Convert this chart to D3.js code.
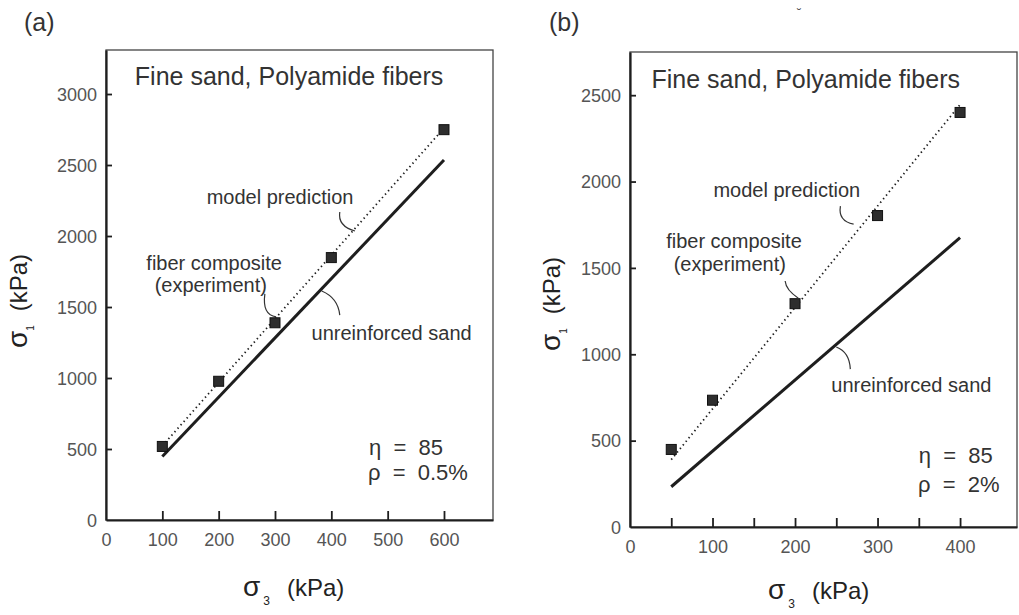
<!DOCTYPE html>
<html>
<head>
<meta charset="utf-8">
<script src="https://cdn.jsdelivr.net/npm/d3@7"></script>
<style>
  html, body { margin: 0; padding: 0; background: #fff; }
  svg { display: block; font-family: "Liberation Sans", Arial, Helvetica, sans-serif; }
</style>
</head>
<body>
<svg id="chart" width="1019" height="615"></svg>
<script>
// Panel (a): rho = 0.5 %
const s3TicksA = [0, 100, 200, 300, 400, 500, 600];
const s1TicksA = [0, 500, 1000, 1500, 2000, 2500, 3000];
const expS3A = [100, 200, 300, 400, 600];
const expS1A = [518, 977, 1389, 1848, 2749];
const modelS3A = [100, 600];
const modelS1A = [522, 2760];
const sandS3A = [100, 600];
const sandS1A = [447, 2535];

// Panel (b): rho = 2 %
const s3TicksB = [0, 50, 100, 150, 200, 250, 300, 350, 400];
const s3LabelsB = [0, 100, 200, 300, 400];
const s1TicksB = [0, 500, 1000, 1500, 2000, 2500];
const expS3B = [50, 100, 200, 300, 400];
const expS1B = [449, 734, 1293, 1803, 2400];
const modelS3B = [50, 400];
const modelS1B = [390, 2445];
const sandS3B = [50, 400];
const sandS1B = [233, 1675];

const svg = d3.select("#chart");
const ink = "#1e1e1e";
const textInk = "#333";
const tickInk = "#555";

function drawPanel(p) {
  const x = d3.scaleLinear().domain(p.xDomain).range(p.xRange);
  const y = d3.scaleLinear().domain(p.yDomain).range(p.yRange);
  const g = svg.append("g");

  // frame (top and right edges)
  g.append("rect")
    .attr("x", p.xRange[0]).attr("y", p.yRange[1])
    .attr("width", p.xRange[1] - p.xRange[0])
    .attr("height", p.yRange[0] - p.yRange[1])
    .attr("fill", "none").attr("stroke", "#444").attr("stroke-width", 1.3);

  // axes, ticks pointing inward
  const ax = g.append("g")
    .attr("transform", `translate(0,${p.yRange[0]})`)
    .call(d3.axisBottom(x).tickValues(p.xTicks).tickSizeInner(-9).tickSizeOuter(0).tickPadding(13)
      .tickFormat(d => p.xLabels.includes(d) ? String(d) : ""));
  const ay = g.append("g")
    .attr("transform", `translate(${p.xRange[0]},0)`)
    .call(d3.axisLeft(y).tickValues(p.yTicks).tickSizeInner(-6).tickSizeOuter(0).tickPadding(9)
      .tickFormat(d => String(d)));

  [ax, ay].forEach(a => {
    a.select(".domain").attr("stroke", ink).attr("stroke-width", 2.2);
    a.selectAll(".tick line").attr("stroke", ink).attr("stroke-width", 1.8);
    a.selectAll(".tick text").attr("fill", tickInk).attr("font-size", 18).attr("font-family", "Liberation Sans, Arial, sans-serif");
  });
  ax.selectAll(".tick").filter(d => d === 0).select("line").remove();
  ay.selectAll(".tick").filter(d => d === 0).select("line").remove();
  ay.selectAll(".tick text").attr("dy", "0.35em");

  // unreinforced sand: solid line
  const line = d3.line().x(d => x(d[0])).y(d => y(d[1]));
  g.append("path")
    .datum(p.sandS3.map((v, i) => [v, p.sandS1[i]]))
    .attr("d", line).attr("fill", "none").attr("stroke", ink).attr("stroke-width", 3);

  // model prediction: dotted line
  g.append("path")
    .datum(p.modelS3.map((v, i) => [v, p.modelS1[i]]))
    .attr("d", line).attr("fill", "none").attr("stroke", ink)
    .attr("stroke-width", 1.8).attr("stroke-dasharray", "1.4,3.2");

  // experiment: square markers
  const sz = 10;
  g.selectAll("rect.pt")
    .data(p.expS3.map((v, i) => [v, p.expS1[i]]))
    .join("rect").attr("class", "pt")
    .attr("x", d => x(d[0]) - sz / 2).attr("y", d => y(d[1]) - sz / 2)
    .attr("width", sz).attr("height", sz)
    .attr("fill", "#2e2e2e").attr("stroke", "#111").attr("stroke-width", 1);

  // text annotations, positioned in data units
  p.notes.forEach(n => {
    g.append("text")
      .attr("x", x(n.at[0])).attr("y", y(n.at[1]))
      .attr("text-anchor", n.anchor || "middle")
      .attr("font-size", n.size).attr("fill", textInk)
      .style("white-space", "pre")
      .text(n.text);
  });

  // leader curves from labels to the lines
  p.leaders.forEach(l => {
    const path = d3.path();
    path.moveTo(x(l[0][0]), y(l[0][1]));
    path.quadraticCurveTo(x(l[1][0]), y(l[1][1]), x(l[2][0]), y(l[2][1]));
    g.append("path").attr("d", path.toString())
      .attr("fill", "none").attr("stroke", "#333").attr("stroke-width", 1.2);
  });

  // panel letter
  svg.append("text").attr("x", p.letterPos[0]).attr("y", p.letterPos[1])
    .attr("font-size", 25).attr("fill", textInk).text(p.letter);

  // y-axis title: sigma_1 (kPa)
  const yt = svg.append("text")
    .attr("transform", `translate(${p.yTitlePos[0]},${p.yTitlePos[1]}) rotate(-90)`)
    .attr("text-anchor", "middle").attr("fill", "#222");
  yt.append("tspan").attr("font-size", 28).text("σ");
  yt.append("tspan").attr("font-size", 10).attr("dy", 7).text("1");
  yt.append("tspan").attr("font-size", 24).attr("dy", -7).attr("dx", 14).text("(kPa)");

  // x-axis title: sigma_3 (kPa)
  const xt = svg.append("text")
    .attr("x", p.xTitlePos[0]).attr("y", p.xTitlePos[1])
    .attr("fill", "#222");
  xt.append("tspan").attr("font-size", 28).text("σ");
  xt.append("tspan").attr("font-size", 12).attr("dy", 9).attr("dx", 3).text("3");
  xt.append("tspan").attr("font-size", 24).attr("dy", -9).attr("dx", 17).text("(kPa)");
}

drawPanel({
  letter: "(a)", letterPos: [24, 31],
  xDomain: [0, 687], xRange: [106, 493],
  yDomain: [0, 3310], yRange: [520, 50],
  xTicks: s3TicksA, xLabels: s3TicksA, yTicks: s1TicksA,
  expS3: expS3A, expS1: expS1A,
  modelS3: modelS3A, modelS1: modelS1A,
  sandS3: sandS3A, sandS1: sandS1A,
  yTitlePos: [27, 301], xTitlePos: [243, 596],
  notes: [
    { text: "Fine sand, Polyamide fibers", at: [325, 3063], size: 25 },
    { text: "model prediction", at: [309, 2225], size: 20 },
    { text: "fiber composite", at: [192, 1761], size: 20 },
    { text: "(experiment)", at: [186, 1606], size: 20 },
    { text: "unreinforced sand", at: [507, 1268], size: 20 },
    { text: "η  =  85", at: [467, 458], size: 22, anchor: "start" },
    { text: "ρ  =  0.5%", at: [465, 282], size: 22, anchor: "start" }
  ],
  leaders: [
    [[415, 2169], [411, 2070], [442, 2035]],
    [[282, 1592], [277, 1444], [302, 1430]],
    [[415, 1443], [412, 1564], [383, 1613]]
  ]
});

drawPanel({
  letter: "(b)", letterPos: [549, 31],
  xDomain: [0, 469], xRange: [630, 1017],
  yDomain: [0, 2750], yRange: [527, 52],
  xTicks: s3TicksB, xLabels: s3LabelsB, yTicks: s1TicksB,
  expS3: expS3B, expS1: expS1B,
  modelS3: modelS3B, modelS1: modelS1B,
  sandS3: sandS3B, sandS1: sandS1B,
  yTitlePos: [560, 304], xTitlePos: [768, 599],
  notes: [
    { text: "Fine sand, Polyamide fibers", at: [213, 2541], size: 25 },
    { text: "model prediction", at: [190, 1910], size: 20 },
    { text: "fiber composite", at: [126, 1615], size: 20 },
    { text: "(experiment)", at: [121, 1481], size: 20 },
    { text: "unreinforced sand", at: [341, 781], size: 20 },
    { text: "η  =  85", at: [350, 370], size: 22, anchor: "start" },
    { text: "ρ  =  2%", at: [349, 203], size: 22, anchor: "start" }
  ],
  leaders: [
    [[255, 1858], [252, 1771], [271, 1754]],
    [[188, 1424], [189, 1372], [204, 1325]],
    [[267, 914], [266, 1013], [250, 1042]]
  ]
});

// small speck above panel (b)
svg.append("text").attr("x", 797).attr("y", 18).attr("font-size", 13).attr("fill", "#555").text("˘");
</script>
</body>
</html>
